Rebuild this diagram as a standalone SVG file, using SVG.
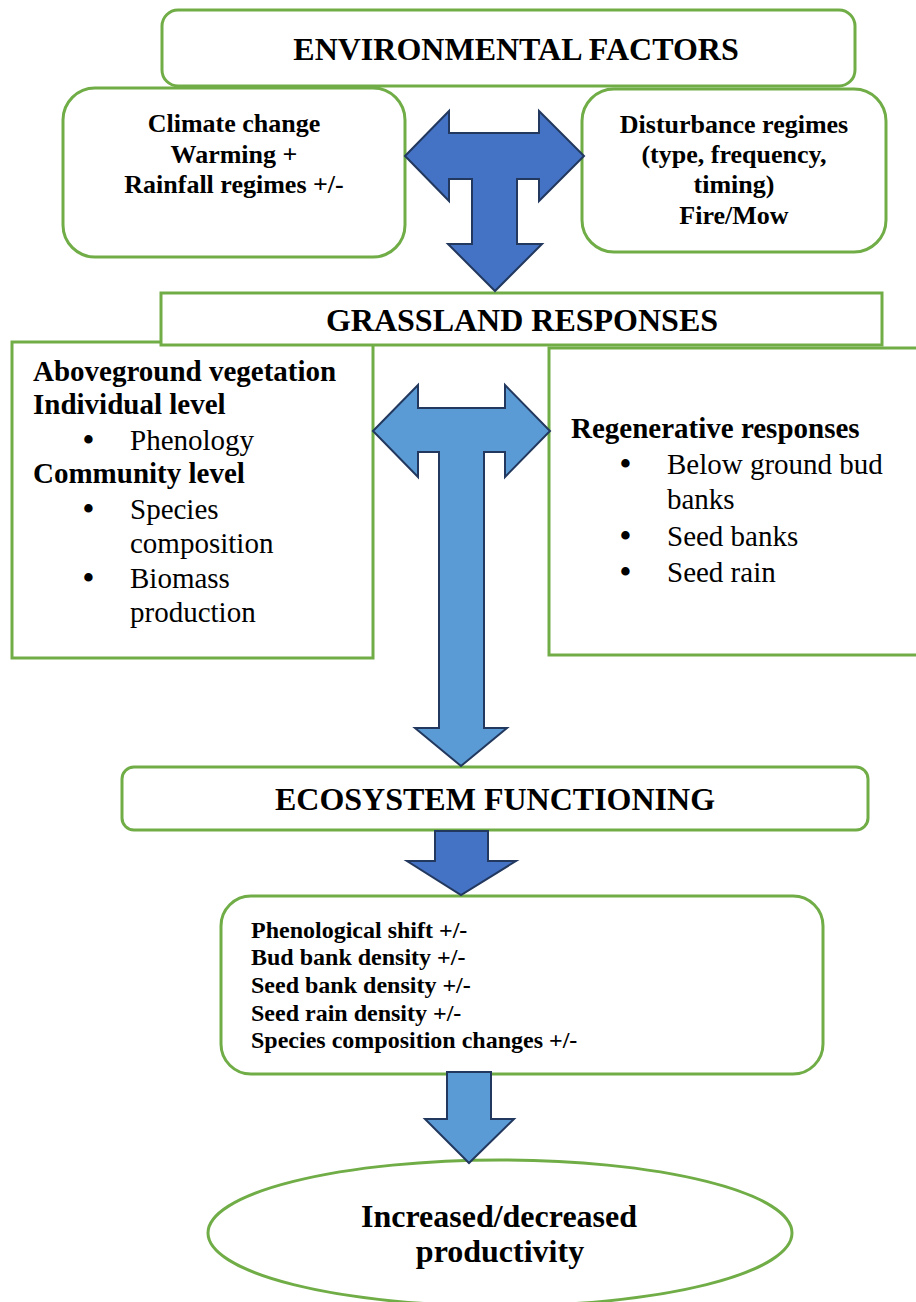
<svg xmlns="http://www.w3.org/2000/svg" width="916" height="1302" viewBox="0 0 916 1302">
<style>
.box{fill:#fff;stroke:#70AD47;stroke-width:3}
.dk{fill:#4472C4;stroke:#22385E;stroke-width:2;stroke-linejoin:miter}
.lt{fill:#5B9BD5;stroke:#22385E;stroke-width:2;stroke-linejoin:miter}
text{font-family:"Liberation Serif","Times New Roman",serif;fill:#000}
.b{font-weight:bold}
.c{text-anchor:middle}
.bul{font-weight:bold;font-size:31px}
</style>
<rect width="916" height="1302" fill="#fff"/>
<g id="env">
<rect class="box" x="162" y="10" width="693" height="76" rx="16"/>
<text class="b c" x="516" y="60" font-size="32">ENVIRONMENTAL FACTORS</text>
</g>
<g id="climate">
<rect class="box" x="63" y="88" width="342" height="169" rx="32"/>
<text class="b c" font-size="26"><tspan x="234" y="132">Climate change</tspan><tspan x="234" y="163">Warming +</tspan><tspan x="234" y="193">Rainfall regimes +/-</tspan></text>
</g>
<g id="disturbance">
<rect class="box" x="582" y="89" width="304" height="163" rx="32"/>
<text class="b c" font-size="26"><tspan x="734" y="133">Disturbance regimes</tspan><tspan x="734" y="163">(type, frequency,</tspan><tspan x="734" y="193">timing)</tspan><tspan x="734" y="224">Fire/Mow</tspan></text>
</g>
<g id="above">
<rect class="box" x="12" y="342" width="361" height="316"/>
<text font-size="29" class="b" x="33" y="381">Aboveground vegetation</text>
<text font-size="29" class="b" x="33" y="414">Individual level</text>
<text font-size="29" y="450"><tspan class="bul" x="83">•</tspan><tspan x="130">Phenology</tspan></text>
<text font-size="29" class="b" x="33" y="483">Community level</text>
<text font-size="29"><tspan class="bul" x="83" y="519">•</tspan><tspan x="130" y="519">Species</tspan><tspan x="130" y="553">composition</tspan></text>
<text font-size="29"><tspan class="bul" x="83" y="588">•</tspan><tspan x="130" y="588">Biomass</tspan><tspan x="130" y="622">production</tspan></text>
</g>
<g id="regen">
<rect class="box" x="549" y="348" width="380" height="307"/>
<text font-size="29" class="b" x="571" y="438">Regenerative responses</text>
<text font-size="29"><tspan class="bul" x="620" y="474">•</tspan><tspan x="667" y="474">Below ground bud</tspan><tspan x="667" y="509">banks</tspan></text>
<text font-size="29" y="546"><tspan class="bul" x="620">•</tspan><tspan x="667">Seed banks</tspan></text>
<text font-size="29" y="582"><tspan class="bul" x="620">•</tspan><tspan x="667">Seed rain</tspan></text>
</g>
<g id="grass">
<rect class="box" x="161" y="293" width="721" height="52"/>
<text class="b c" x="522" y="331" font-size="32">GRASSLAND RESPONSES</text>
</g>
<g id="eco">
<rect class="box" x="122" y="767" width="746" height="63" rx="12"/>
<text class="b c" x="495" y="810" font-size="32">ECOSYSTEM FUNCTIONING</text>
</g>
<g id="effects">
<rect class="box" x="221" y="896" width="602" height="178" rx="30"/>
<text class="b" font-size="24">
<tspan x="251" y="938">Phenological shift +/-</tspan>
<tspan x="251" y="965">Bud bank density +/-</tspan>
<tspan x="251" y="993">Seed bank density +/-</tspan>
<tspan x="251" y="1021">Seed rain density +/-</tspan>
<tspan x="251" y="1048">Species composition changes +/-</tspan>
</text>
</g>
<g id="productivity">
<ellipse class="box" cx="500" cy="1233" rx="292" ry="73"/>
<text class="b c" font-size="32"><tspan x="499" y="1227">Increased/decreased</tspan><tspan x="500" y="1262">productivity</tspan></text>
</g>
<g id="connectors">
<polygon class="dk" points="405,156 449,111 449,133 539,133 539,111 584,156 539,201 539,179 517,179 517,244 542,244 495,291 448,244 472,244 472,179 449,179 449,201"/>
<polygon class="lt" points="373,431 418,385 418,408 505,408 505,385 550,431 505,477 505,452 484,452 484,728 507,728 461,766 415,728 439,728 439,452 418,452 418,477"/>
<polygon class="dk" points="435,831 488,831 488,861 516,861 461,895 407,861 435,861"/>
<polygon class="lt" points="447,1072 491,1072 491,1119 514,1119 469,1163 425,1119 447,1119"/>
</g>
</svg>
